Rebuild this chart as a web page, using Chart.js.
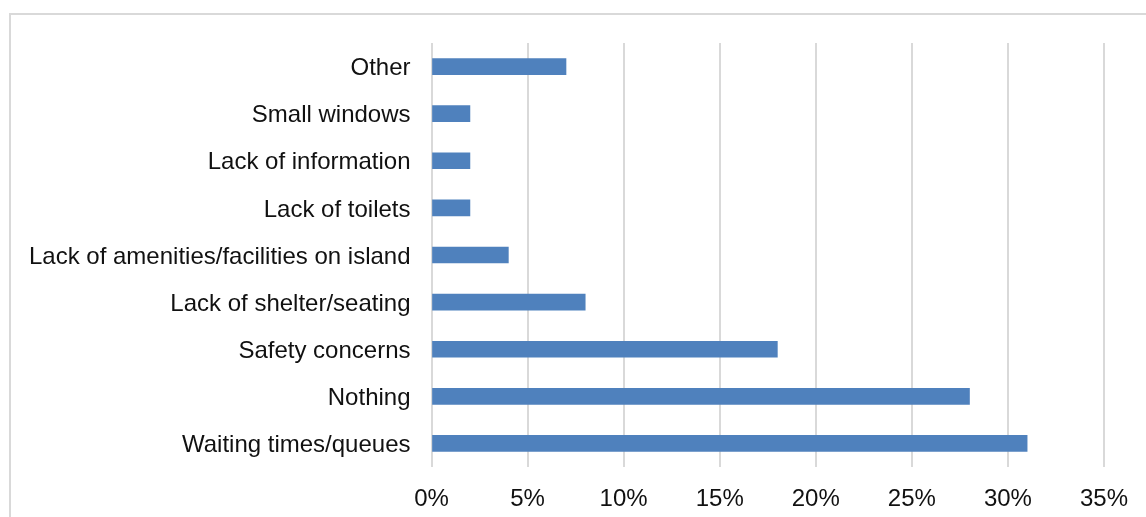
<!DOCTYPE html>
<html>
<head>
<meta charset="utf-8">
<script src="https://cdn.jsdelivr.net/npm/chart.js@4"></script>
<style>
    html, body { margin: 0; padding: 0; background: #fff; overflow: hidden; }
    #wrap { position: relative; width: 1146px; height: 517px; }
    #frame { position: absolute; left: 9px; top: 13px; width: 1200px; height: 600px; border: 2px solid #d9d9d9; }
    #chart { position: absolute; left: 0; top: 0; }
</style>
</head>
<body>
<div id="wrap">
    <div id="frame"></div>
    <canvas id="chart" width="1146" height="517"></canvas>
</div>
<script>
// data
const categories = [
    'Other',
    'Small windows',
    'Lack of information',
    'Lack of toilets',
    'Lack of amenities/facilities on island',
    'Lack of shelter/seating',
    'Safety concerns',
    'Nothing',
    'Waiting times/queues'
];
const shares = [7, 2, 2, 2, 4, 8, 18, 28, 31];
const xTicks = [0, 5, 10, 15, 20, 25, 30, 35];

const font = { family: "'Liberation Sans', Arial, sans-serif", size: 24 };

const ctx = document.getElementById('chart').getContext('2d');
const chart = new Chart(ctx, {
    type: 'bar',
    data: {
        labels: categories,
        datasets: [{
            data: shares,
            backgroundColor: '#4f81bd',
            barThickness: 16
        }]
    },
    options: {
        indexAxis: 'y',
        responsive: false,
        animation: false,
        layout: { padding: { left: 10, right: 41, top: 43, bottom: 0 } },
        plugins: { legend: { display: false }, tooltip: { enabled: false } },
        scales: {
            x: {
                min: 0,
                max: 35,
                afterBuildTicks: (scale) => {
                    scale.ticks = xTicks.map(v => ({ value: v }));
                },
                afterFit: (scale) => { scale.height = 50; },
                grid: { color: '#d9d9d9', lineWidth: 2, drawTicks: false },
                border: { display: false },
                ticks: {
                    font,
                    color: '#111',
                    padding: 18,
                    maxRotation: 0,
                    callback: (v) => v + '%'
                }
            },
            y: {
                afterFit: (scale) => { scale.width = 421.5; },
                grid: { display: false, drawTicks: false },
                border: { display: false },
                ticks: { font, color: '#111', padding: 21, labelOffset: 2 }
            }
        }
    }
});
</script>
</body>
</html>
